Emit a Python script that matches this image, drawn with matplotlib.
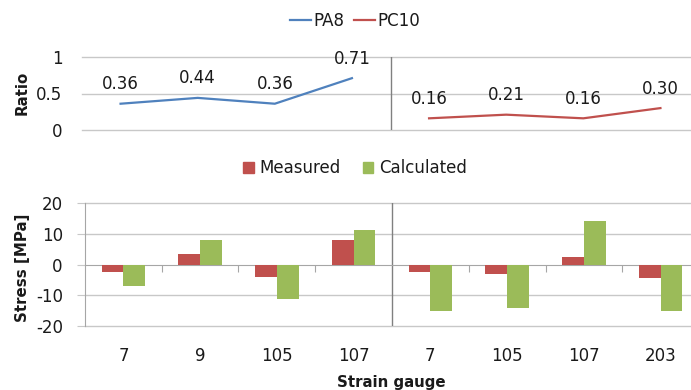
import matplotlib
matplotlib.use("Agg")
import matplotlib.pyplot as plt
import numpy as np
from matplotlib.lines import Line2D
from matplotlib.patches import Patch

# ---- data ----
gauges = ["7", "9", "105", "107", "7", "105", "107", "203"]
pa8_ratio = [0.36, 0.44, 0.36, 0.71]
pc10_ratio = [0.16, 0.21, 0.16, 0.30]
measured = [-2.5, 3.5, -4.1, 8.1, -2.3, -3.1, 2.4, -4.4]
calculated = [-7.0, 8.1, -11.2, 11.3, -15.0, -14.0, 14.2, -15.0]

BLUE = "#4F81BD"
RED = "#C0504D"
GREEN = "#9BBB59"
GRID = "#C8C8C8"
AXC = "#A6A6A6"
DIV = "#808080"
TXT = "#1a1a1a"

plt.rcParams['font.family'] = ['DejaVu Sans']
plt.rcParams['axes.unicode_minus'] = False

W, H = 691, 390
fig = plt.figure(figsize=(W / 100, H / 100), dpi=100)

def ax_rect(l, r, t, b):
    return [l / W, (H - b) / H, (r - l) / W, (b - t) / H]

n = len(gauges)
x = np.arange(n)
xa = x[:4]
xb = x[4:]

# ---- top ratio chart ----
ax1 = fig.add_axes(ax_rect(82, 699, 57, 130))
ax1.set_xlim(-0.5, n - 0.5)
ax1.set_ylim(0, 1)
ax1.set_yticks([0, 0.5, 1])
ax1.set_yticklabels(["0", "0.5", "1"])
for s in ax1.spines.values():
    s.set_visible(False)
ax1.set_xticks([])
ax1.tick_params(axis='y', length=0, pad=14, labelsize=12, labelcolor=TXT)
for yv in [0, 0.5, 1]:
    ax1.axhline(yv, color=GRID, lw=1, zorder=0, clip_on=False)
ax1.axvline(3.5, color=DIV, lw=1, zorder=1)
ax1.plot(xa, pa8_ratio, color=BLUE, lw=1.6, zorder=3)
ax1.plot(xb, pc10_ratio, color=RED, lw=1.6, zorder=3)
for xi, v in zip(xa, pa8_ratio):
    ax1.annotate(f"{v:.2f}", (xi, v), xytext=(0, 14), textcoords='offset points',
                 ha='center', va='center', fontsize=12, color=TXT)
for xi, v in zip(xb, pc10_ratio):
    ax1.annotate(f"{v:.2f}", (xi, v), xytext=(0, 14), textcoords='offset points',
                 ha='center', va='center', fontsize=12, color=TXT)

# ---- bottom stress chart ----
ax2 = fig.add_axes(ax_rect(85, 699, 203, 326))
ax2.set_xlim(-0.5, n - 0.5)
ax2.set_ylim(-20, 20)
ax2.set_yticks([-20, -10, 0, 10, 20])
for yv in [-20, -10, 10, 20]:
    ax2.axhline(yv, color=GRID, lw=1, zorder=0, clip_on=False)
for k in ['top', 'right']:
    ax2.spines[k].set_visible(False)
ax2.spines['left'].set_color(AXC)
ax2.spines['bottom'].set_position(('data', 0))
ax2.spines['bottom'].set_color(AXC)
ax2.tick_params(axis='y', length=6, color=GRID, pad=10, labelsize=12, labelcolor=TXT)
bounds = [b + 0.5 for b in range(n - 1) if b != 3]
ax2.set_xticks(bounds)
ax2.set_xticklabels([])
ax2.tick_params(axis='x', length=5, color=AXC, direction='out')
ax2.axvline(3.5, color=DIV, lw=1, zorder=1)
bw = 0.285
ax2.bar(x - bw / 2, measured, bw, color=RED, zorder=3)
ax2.bar(x + bw / 2, calculated, bw, color=GREEN, zorder=3)

sec = ax2.secondary_xaxis(0)
sec.set_xticks(x)
sec.set_xticklabels(gauges)
sec.spines['bottom'].set_visible(False)
sec.tick_params(length=0, pad=15, labelsize=12, labelcolor=TXT)

# ---- legends ----
h1 = [Line2D([], [], color=BLUE, lw=1.6), Line2D([], [], color=RED, lw=1.6)]
fig.legend(h1, ["PA8", "PC10"], loc='center', bbox_to_anchor=(355 / W, 1 - 21 / H),
           ncol=2, frameon=False, fontsize=12, handlelength=1.25, handletextpad=0.15,
           columnspacing=0.6, borderpad=0, labelcolor=TXT)
h2 = [Patch(color=RED), Patch(color=GREEN)]
fig.legend(h2, ["Measured", "Calculated"], loc='center', bbox_to_anchor=(355 / W, 1 - 168 / H),
           ncol=2, frameon=False, fontsize=12, handlelength=0.65, handleheight=0.65,
           handletextpad=0.35, columnspacing=1.3, borderpad=0, labelcolor=TXT)

# ---- axis titles ----
fig.text(22 / W, 1 - 93 / H, "Ratio", rotation=90, ha='center', va='center',
         fontsize=10.8, fontweight='bold', color=TXT)
fig.text(23 / W, 1 - 268 / H, "Stress [MPa]", rotation=90, ha='center', va='center',
         fontsize=10.8, fontweight='bold', color=TXT)
fig.text(391 / W, 1 - 382 / H, "Strain gauge", ha='center', va='center',
         fontsize=10.8, fontweight='bold', color=TXT)

fig.savefig("out.png", dpi=100)
